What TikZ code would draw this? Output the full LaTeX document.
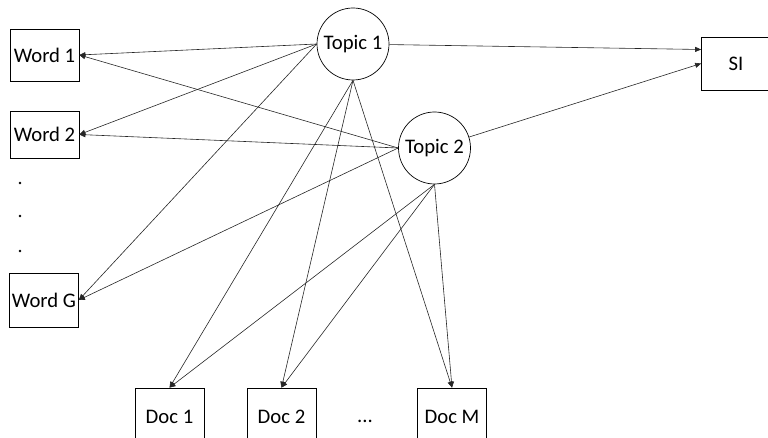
\documentclass[tikz,border=0pt]{standalone}
\usepackage{fontspec}
\setmainfont{Carlito}
\usetikzlibrary{arrows.meta}

\begin{document}
\begin{tikzpicture}[x=1pt,y=-1pt,line width=0.7pt,
      every node/.style={inner sep=2pt,font=\fontsize{20.7}{24}\selectfont},
      box/.style={draw,minimum width=69pt,minimum height=52pt},
      topic/.style={draw,circle,minimum size=72pt,inner sep=0pt},
      link/.style={draw=black!85,line width=0.6pt},
      >={Triangle[length=6pt,width=5pt]}]
      \useasboundingbox(0,0)rectangle(768,438);
      \node[topic](t1)at(353,44){Topic 1};
      \node[topic](t2)at(434.5,148){Topic 2};
      \node[box](w1)at(44.5,55){Word 1};
      \node[box,minimum height=47pt](w2)at(44.5,134.5){Word 2};
      \node[box,minimum height=54pt](wg)at(44,300){Word G};
      \node[box,minimum height=53pt](si)at(736,63.5){SI};
      \node[box,minimum height=58pt](d1)at(169.5,417){Doc 1};
      \node[box,minimum height=58pt](d2)at(281.5,417){Doc 2};
      \node[box,minimum height=58pt](dm)at(452,417){Doc M};
      \node(dots)at(365,421){...};
      \foreach \y in {183,216,251}
        \fill(20,\y)circle(1.3);
      % topic 1
      \foreach \w in {w1,w2,wg}
        \draw[link,->](t1.west)--(\w.east);
      \foreach \d in {d1,d2,dm}
        \draw[link,->](t1.south)--(\d.north);
      \draw[link,->](t1)--([yshift=14pt]si.west);
      % topic 2
      \foreach \w in {w1,w2,wg}
        \draw[link,->](t2.west)--(\w.east);
      \foreach \d in {d1,d2,dm}
        \draw[link,->](t2.south)--(\d.north);
      \draw[link,->](t2)--(si.west);
  \end{tikzpicture}
\end{document}
